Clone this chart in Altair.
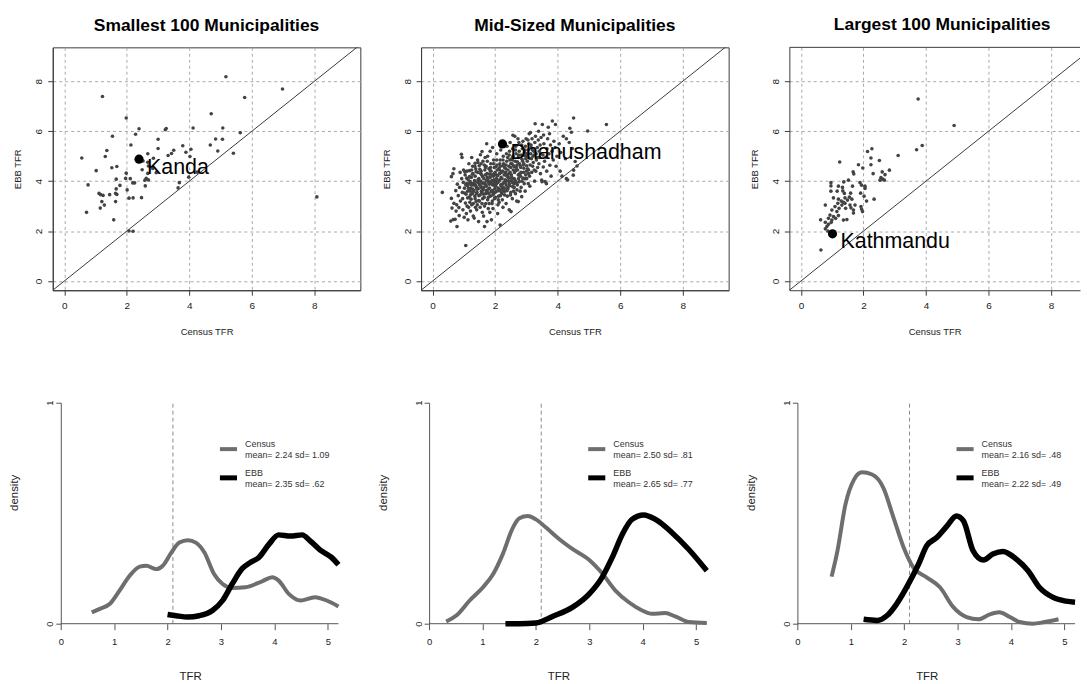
import altair as alt
import pandas as pd

FONT = "Liberation Sans"
GRID = "#a9a9a9"
BOX = "#3a3a3a"
PT = "#434343"
CEN = "#6e6e6e"
AX = "#555555"

# ---------------- data ----------------
small_pts = [
    (5.17, 8.18), (1.22, 7.39), (6.98, 7.69), (5.77, 7.35), (4.70, 6.70), (1.98, 6.53),
    (2.39, 6.10), (2.28, 5.88), (3.23, 6.06), (3.26, 6.11), (4.12, 6.13), (5.07, 6.13), (5.63, 5.94),
    (1.54, 5.80), (3.00, 5.68), (4.84, 5.69), (5.06, 5.68), (2.13, 5.45), (3.79, 5.42), (4.67, 5.45),
    (1.36, 5.23), (3.00, 5.31), (3.50, 5.24), (4.05, 5.28), (4.91, 5.21), (5.41, 5.12), (3.43, 5.11),
    (3.32, 5.03), (4.02, 4.99), (1.31, 4.99), (0.56, 4.93), (3.89, 5.16), (2.67, 4.76), (1.68, 4.59),
    (1.52, 4.54), (1.02, 4.42), (2.49, 4.46), (2.83, 4.51), (1.98, 4.32), (2.67, 4.31), (2.94, 4.34),
    (1.96, 4.11), (1.66, 4.08), (2.11, 4.10), (2.62, 4.11), (2.69, 4.05), (2.19, 3.93), (2.25, 3.93),
    (0.76, 3.85), (1.78, 3.83), (2.59, 3.81), (1.66, 3.69), (2.01, 3.65), (1.11, 3.51), (1.16, 3.46),
    (1.45, 3.46), (1.64, 3.51), (2.07, 3.32), (2.20, 3.33), (2.47, 3.34), (1.64, 3.18), (1.20, 3.18),
    (1.15, 2.92), (1.28, 3.04), (0.71, 2.75), (1.58, 2.45), (2.07, 2.00), (2.20, 1.99), (8.08, 3.37),
    (3.64, 3.73), (3.68, 3.94), (3.98, 4.16), (4.25, 4.36),
    (2.85, 4.92), (2.52, 4.81), (2.69, 4.61), (2.67, 5.10), (2.58, 4.04), (1.24, 3.43), (1.68, 3.47),
]

mid_pts = [
    (0.31, 3.55),
    (0.58, 2.40), (0.60, 3.31), (0.62, 2.92), (0.65, 4.30), (0.68, 4.50), (0.68, 3.11), (0.60, 4.18), (0.66, 2.46),
    (0.72, 2.47), (0.78, 2.18), (0.74, 3.62), (0.77, 3.05), (0.79, 3.88), (0.75, 2.80),
    (0.84, 2.94), (0.82, 3.42), (0.86, 3.75), (0.88, 4.35), (0.85, 2.62), (0.89, 3.20),
    (0.92, 5.08), (0.94, 4.95), (0.93, 4.10), (0.95, 3.55), (0.97, 2.85), (0.98, 3.95), (0.96, 3.30), (0.99, 4.45),
    (1.06, 1.42), (1.02, 3.72), (1.04, 4.25), (1.05, 3.12), (1.08, 2.70), (1.03, 4.38), (1.07, 3.48), (1.09, 3.90), (1.01, 2.55), (1.10, 4.40),
    (1.12, 3.60), (1.14, 4.05), (1.15, 2.95), (1.17, 3.35), (1.18, 4.42), (1.11, 3.82), (1.16, 4.70), (1.19, 3.15), (1.13, 2.45), (1.20, 3.98),
    (1.22, 3.70), (1.24, 4.15), (1.25, 3.05), (1.27, 3.50), (1.28, 4.60), (1.21, 2.80), (1.26, 3.90), (1.29, 4.30), (1.23, 3.28), (1.30, 2.60), (1.25, 4.95),
    (1.32, 3.62), (1.34, 4.02), (1.35, 3.40), (1.37, 2.95), (1.38, 4.50), (1.31, 3.85), (1.36, 4.20), (1.39, 3.18), (1.33, 2.52), (1.40, 3.75), (1.36, 4.72),
    (1.42, 3.55), (1.44, 3.95), (1.45, 4.35), (1.47, 3.22), (1.48, 4.10), (1.41, 2.85), (1.46, 3.70), (1.49, 4.62), (1.43, 3.05), (1.47, 2.38), (1.50, 3.85), (1.44, 4.85),
    (1.52, 3.45), (1.54, 4.00), (1.55, 3.78), (1.57, 4.25), (1.58, 3.10), (1.51, 4.48), (1.56, 3.60), (1.59, 2.75), (1.53, 5.06), (1.58, 5.19), (1.55, 4.70), (1.60, 3.92), (1.52, 2.95),
    (1.62, 3.65), (1.64, 4.10), (1.65, 3.35), (1.67, 4.45), (1.68, 3.88), (1.61, 4.80), (1.66, 3.00), (1.69, 4.25), (1.63, 2.60), (1.70, 3.50), (1.66, 2.18), (1.64, 3.75), (1.68, 4.95),
    (1.72, 3.80), (1.74, 4.30), (1.75, 3.55), (1.77, 4.05), (1.78, 2.90), (1.71, 4.60), (1.76, 3.25), (1.79, 3.95), (1.73, 5.50), (1.74, 2.38), (1.80, 4.50), (1.76, 5.00), (1.78, 3.68),
    (1.82, 3.72), (1.84, 4.15), (1.85, 3.40), (1.87, 4.40), (1.88, 3.90), (1.81, 3.10), (1.86, 4.70), (1.89, 3.60), (1.83, 2.75), (1.90, 4.25), (1.84, 5.20), (1.88, 2.45), (1.86, 3.98),
    (1.92, 3.85), (1.94, 4.20), (1.95, 3.50), (1.97, 4.55), (1.98, 3.95), (1.91, 3.20), (1.96, 4.05), (1.99, 3.70), (1.93, 2.90), (2.00, 4.35), (1.95, 4.85), (1.98, 3.30), (1.92, 5.35),
    (2.02, 3.80), (2.04, 4.10), (2.05, 3.60), (2.07, 4.45), (2.08, 3.95), (2.01, 3.35), (2.06, 4.65), (2.09, 3.05), (2.03, 4.25), (2.10, 3.72), (2.05, 5.10), (2.08, 2.70), (2.04, 3.90),
    (2.12, 4.00), (2.14, 4.30), (2.15, 3.65), (2.17, 4.60), (2.18, 3.85), (2.11, 3.40), (2.16, 4.85), (2.19, 4.15), (2.13, 3.15), (2.20, 3.55), (2.16, 2.24), (2.18, 5.25), (2.14, 4.45),
    (2.22, 4.10), (2.24, 4.40), (2.25, 3.75), (2.27, 4.70), (2.28, 3.95), (2.21, 3.50), (2.26, 5.00), (2.29, 4.25), (2.23, 3.25), (2.30, 4.55), (2.25, 2.95), (2.28, 3.60),
    (2.32, 4.05), (2.34, 4.50), (2.35, 3.85), (2.37, 4.80), (2.38, 4.20), (2.31, 3.60), (2.36, 5.10), (2.39, 3.40), (2.33, 4.35), (2.40, 4.95), (2.35, 3.10), (2.38, 5.40),
    (2.42, 4.15), (2.44, 4.60), (2.45, 3.90), (2.47, 4.85), (2.48, 4.35), (2.41, 3.70), (2.46, 5.20), (2.49, 3.45), (2.43, 4.00), (2.50, 4.70), (2.45, 2.85), (2.48, 5.55),
    (2.52, 4.25), (2.54, 4.70), (2.55, 3.95), (2.57, 5.00), (2.58, 4.45), (2.51, 2.78), (2.56, 5.30), (2.59, 3.60), (2.53, 4.90), (2.57, 5.84), (2.60, 4.10), (2.55, 3.30),
    (2.62, 4.35), (2.64, 4.80), (2.65, 4.00), (2.67, 5.10), (2.68, 4.55), (2.61, 3.75), (2.66, 5.40), (2.69, 3.20), (2.63, 5.80), (2.70, 4.65), (2.65, 3.50),
    (2.72, 4.45), (2.74, 4.95), (2.75, 4.10), (2.77, 5.20), (2.78, 4.70), (2.71, 3.85), (2.76, 5.55), (2.74, 3.18), (2.79, 4.30), (2.73, 5.70), (2.80, 3.60),
    (2.82, 4.55), (2.84, 5.05), (2.85, 3.38), (2.87, 5.30), (2.88, 4.80), (2.81, 4.20), (2.86, 4.00), (2.89, 5.60), (2.83, 3.75), (2.90, 4.65),
    (2.92, 4.70), (2.94, 5.15), (2.96, 3.60), (2.97, 5.40), (2.98, 4.90), (2.91, 4.35), (2.95, 4.10), (2.99, 5.70), (2.93, 3.90), (3.00, 5.00),
    (3.01, 4.10), (3.03, 4.80), (3.05, 5.25), (3.06, 3.90), (3.08, 5.50), (3.04, 4.50), (3.09, 5.90), (3.02, 5.05), (3.07, 4.30),
    (3.12, 4.65), (3.14, 5.10), (3.15, 5.45), (3.17, 4.35), (3.18, 5.70), (3.11, 3.80), (3.16, 4.90), (3.19, 5.25), (3.13, 5.95),
    (3.22, 4.75), (3.24, 5.20), (3.25, 4.45), (3.27, 5.55), (3.28, 6.30), (3.21, 5.00), (3.26, 4.00), (3.29, 5.80),
    (3.32, 4.85), (3.35, 5.35), (3.36, 4.55), (3.38, 5.65), (3.31, 5.10), (3.39, 6.00),
    (3.42, 4.95), (3.44, 5.45), (3.45, 4.30), (3.47, 5.75), (3.49, 4.04), (3.41, 5.20), (3.50, 3.98),
    (3.51, 6.27), (3.53, 5.05), (3.54, 4.57), (3.56, 5.50), (3.58, 4.80), (3.60, 3.98), (3.55, 5.85),
    (3.62, 4.95), (3.64, 3.90), (3.66, 5.30), (3.68, 5.70), (3.70, 6.16), (3.65, 4.40),
    (3.72, 5.10), (3.75, 4.64), (3.77, 5.45), (3.79, 4.20), (3.74, 5.90),
    (3.83, 6.41), (3.82, 5.20), (3.86, 4.85), (3.88, 5.60),
    (3.93, 6.27), (3.92, 5.35), (3.95, 4.60), (3.98, 5.00),
    (4.08, 4.40), (4.05, 5.50), (4.14, 4.20), (4.10, 5.15), (4.18, 5.80),
    (4.28, 4.10), (4.28, 5.70), (4.32, 4.05), (4.37, 5.55), (4.39, 6.12), (4.25, 4.90),
    (4.44, 5.96), (4.47, 5.31), (4.50, 4.24), (4.51, 6.53), (4.51, 4.44), (4.56, 4.79),
    (4.62, 4.61), (4.96, 6.01), (5.56, 6.27),
    # dense core of the cloud
    (1.03, 3.52), (1.06, 3.86), (1.09, 4.12), (1.12, 3.33), (1.15, 3.72), (1.18, 4.18), (1.21, 3.45), (1.24, 3.84),
    (1.27, 4.28), (1.30, 3.58), (1.33, 3.92), (1.36, 3.30), (1.39, 4.38), (1.42, 3.68), (1.45, 4.05), (1.48, 3.42),
    (1.51, 3.85), (1.54, 4.30), (1.57, 3.55), (1.60, 4.18), (1.63, 3.48), (1.66, 3.92), (1.69, 4.55), (1.72, 3.62),
    (1.75, 4.15), (1.78, 3.35), (1.81, 3.88), (1.84, 4.42), (1.87, 3.58), (1.90, 4.02), (1.93, 3.45), (1.96, 4.28),
    (1.99, 3.82), (2.02, 4.58), (2.05, 3.92), (2.08, 4.22), (2.11, 3.62), (2.14, 4.05), (2.17, 3.42), (2.20, 4.35),
    (2.23, 3.88), (2.26, 4.62), (2.29, 3.72), (2.32, 4.28), (2.35, 4.02), (2.38, 3.62), (2.41, 4.45), (2.44, 4.12),
    (2.47, 3.82), (2.50, 4.55), (2.53, 4.15), (2.56, 3.78), (2.59, 4.62), (2.62, 4.08), (2.65, 4.42), (2.68, 3.92),
    (2.71, 4.78), (2.74, 4.25), (2.77, 3.98), (2.80, 4.62), (2.83, 4.35), (2.86, 4.88), (2.89, 4.12), (2.92, 4.52),
    (2.95, 5.02), (2.98, 4.25), (3.01, 4.62), (3.04, 5.12), (3.07, 4.45), (3.10, 4.92),
    (1.10, 3.00), (1.20, 3.60), (1.30, 3.10), (1.40, 3.50), (1.50, 3.20), (1.60, 3.30), (1.70, 3.10), (1.80, 3.50),
    (1.90, 3.10), (2.00, 3.55), (2.10, 3.25), (2.20, 3.80), (2.30, 3.45), (2.40, 3.75), (2.50, 3.55), (2.60, 3.90),
    (2.70, 3.65), (1.25, 4.45), (1.35, 4.60), (1.45, 4.75), (1.55, 4.40), (1.65, 4.65), (1.75, 4.80), (1.85, 4.55),
    (1.95, 4.70), (2.05, 4.85), (2.15, 4.70), (2.25, 4.85), (2.35, 4.65), (2.45, 5.05), (2.55, 4.85), (2.65, 5.25),
    (2.75, 5.05), (2.85, 5.45), (2.95, 5.25), (3.05, 5.65), (3.15, 5.35), (3.25, 5.05), (3.35, 4.95), (3.45, 5.10),
    (3.20, 4.60), (3.30, 4.40), (3.40, 4.70), (3.10, 4.20), (3.00, 4.40), (1.72, 4.02), (1.82, 4.28), (1.92, 3.62),
    (2.02, 4.02), (2.12, 4.52), (2.22, 3.68), (2.32, 3.95), (2.42, 4.28), (2.52, 4.02), (2.62, 4.58), (1.58, 3.72),
    (1.48, 3.98), (1.38, 3.82), (1.28, 3.68), (1.18, 3.90),
]

large_pts = [
    (3.75, 7.29), (4.90, 6.23), (3.88, 5.43), (3.70, 5.26), (3.11, 5.03), (2.13, 5.19), (2.27, 5.30),
    (1.24, 4.77), (2.24, 4.93), (2.51, 4.83), (2.24, 4.66), (1.84, 4.66), (1.98, 4.53), (1.67, 4.37),
    (1.69, 4.29), (2.31, 4.30), (2.83, 4.44), (2.60, 4.37), (2.69, 4.26), (2.56, 4.14), (2.62, 4.08),
    (2.53, 4.04), (2.67, 4.04), (1.52, 4.04), (1.37, 3.97), (1.89, 3.94), (1.94, 3.84), (0.96, 3.94),
    (0.96, 3.81), (1.20, 3.80), (1.33, 3.75), (1.65, 3.80), (2.05, 3.80), (2.05, 3.71), (0.96, 3.60),
    (1.16, 3.60), (1.34, 3.61), (1.39, 3.51), (1.59, 3.52), (1.91, 3.52), (2.02, 3.40), (2.10, 3.20),
    (2.34, 3.28), (1.04, 3.33), (1.20, 3.28), (1.41, 3.33), (1.49, 3.24), (1.55, 3.36), (1.63, 3.28),
    (1.29, 3.20), (1.36, 3.15), (1.18, 3.11), (1.31, 3.04), (1.41, 3.11), (1.57, 3.04), (1.73, 3.04),
    (1.09, 2.98), (1.22, 2.91), (1.43, 2.91), (1.60, 2.93), (1.68, 2.84), (1.92, 2.98), (1.94, 2.88),
    (1.97, 2.78), (1.68, 2.72), (0.78, 3.04), (0.99, 2.84), (1.15, 2.78), (0.93, 2.64), (1.04, 2.58),
    (1.20, 2.62), (0.88, 2.51), (0.99, 2.44), (1.11, 2.51), (1.36, 2.44), (1.47, 2.46), (0.63, 2.45),
    (0.78, 2.35), (0.88, 2.27), (0.97, 2.35), (0.83, 2.18), (0.78, 2.09), (0.86, 2.00), (0.64, 1.24),
]

panel_titles = ["Smallest 100 Municipalities", "Mid-Sized Municipalities", "Largest 100 Municipalities"]
highlight_names = ["Kanda", "Dhanushadham", "Kathmandu"]
highlight_x = [2.39, 2.235, 1.01]
highlight_y = [4.88, 5.49, 1.89]

census_x = [
    [0.58, 0.73, 0.92, 1.10, 1.29, 1.48, 1.60, 1.79, 1.91, 2.07, 2.22, 2.38, 2.53, 2.69, 2.87, 3.03, 3.21, 3.46, 3.77, 3.96, 4.08, 4.27, 4.49, 4.76, 4.98, 5.20],
    [0.32, 0.51, 0.76, 1.01, 1.20, 1.38, 1.57, 1.69, 1.85, 2.00, 2.19, 2.44, 2.69, 3.00, 3.24, 3.49, 3.74, 3.99, 4.17, 4.42, 4.61, 4.86, 5.20],
    [0.64, 0.75, 0.90, 1.06, 1.21, 1.40, 1.61, 1.80, 1.99, 2.17, 2.42, 2.67, 2.92, 3.17, 3.39, 3.60, 3.78, 3.98, 4.16, 4.41, 4.63, 4.89],
]
census_y = [
    [0.051, 0.067, 0.09, 0.15, 0.217, 0.258, 0.262, 0.247, 0.262, 0.322, 0.367, 0.378, 0.367, 0.322, 0.225, 0.18, 0.162, 0.165, 0.192, 0.21, 0.195, 0.135, 0.105, 0.12, 0.105, 0.078],
    [0.01, 0.037, 0.105, 0.165, 0.225, 0.315, 0.435, 0.477, 0.487, 0.472, 0.435, 0.382, 0.337, 0.288, 0.228, 0.15, 0.097, 0.06, 0.045, 0.048, 0.033, 0.0075, 0.003],
    [0.213, 0.33, 0.54, 0.652, 0.685, 0.675, 0.615, 0.48, 0.345, 0.255, 0.21, 0.165, 0.075, 0.03, 0.02, 0.042, 0.052, 0.03, 0.0075, 0.0, 0.0075, 0.02],
]
ebb_x = [
    [2.00, 2.16, 2.38, 2.59, 2.84, 3.03, 3.21, 3.40, 3.55, 3.71, 3.90, 4.08, 4.30, 4.52, 4.67, 4.86, 5.07, 5.20],
    [1.43, 1.69, 2.00, 2.31, 2.69, 3.00, 3.24, 3.43, 3.62, 3.80, 4.02, 4.24, 4.55, 4.86, 5.20],
    [1.24, 1.49, 1.68, 1.86, 2.08, 2.27, 2.42, 2.61, 2.80, 2.98, 3.11, 3.29, 3.48, 3.66, 3.85, 4.10, 4.32, 4.53, 4.78, 5.03, 5.20],
]
ebb_y = [
    [0.042, 0.036, 0.030, 0.036, 0.06, 0.105, 0.18, 0.25, 0.277, 0.30, 0.36, 0.402, 0.397, 0.402, 0.375, 0.333, 0.30, 0.267],
    [0.0, 0.0, 0.003, 0.033, 0.075, 0.135, 0.21, 0.30, 0.405, 0.472, 0.492, 0.472, 0.412, 0.337, 0.24],
    [0.02, 0.015, 0.037, 0.09, 0.18, 0.27, 0.352, 0.39, 0.442, 0.487, 0.465, 0.33, 0.288, 0.315, 0.327, 0.292, 0.24, 0.165, 0.12, 0.102, 0.097],
]
census_stats = ["mean= 2.24 sd= 1.09", "mean= 2.50 sd= .81", "mean= 2.16 sd= .48"]
ebb_stats = ["mean= 2.35 sd= .62", "mean= 2.65 sd= .77", "mean= 2.22 sd= .49"]
replacement_tfr = 2.1
scatter_ticks = [0, 2, 4, 6, 8]
density_xticks = [0, 1, 2, 3, 4, 5]
density_yticks = [0, 1]

pts_list = [small_pts, mid_pts, large_pts]

# ---------------- layout constants ----------------
TOP_H = 244
BOT_H = 222
BOT_W = 287
BOT_XMIN = -0.1505
BOT_OFF = -8.07


def scatter_panel(i, width, xmax, title_dx, boxed):
    xs = alt.Scale(domain=[-0.37, xmax], nice=False, zero=False)
    ys = alt.Scale(domain=[-0.37, 9.36], nice=False, zero=False)
    xax = alt.Axis(values=scatter_ticks, grid=True, gridDash=[3, 3], gridColor=GRID, gridWidth=1,
                   domainColor=BOX, tickColor=BOX, tickSize=5, labelPadding=5,
                   labelFont=FONT, labelFontSize=10, labelColor="#222",
                   title="Census TFR", titleFont=FONT, titleFontSize=9.5, titleFontWeight="normal",
                   titleColor="#222", titleX=width / 2, titleY=41, titleBaseline="middle", titleAlign="center")
    yax = alt.Axis(values=scatter_ticks, grid=True, gridDash=[3, 3], gridColor=GRID, gridWidth=1,
                   domainColor=BOX, tickColor=BOX, tickSize=5, labelPadding=4,
                   labelFont=FONT, labelFontSize=10, labelColor="#222",
                   labelAngle=270, labelAlign="center", labelBaseline="bottom",
                   title="EBB TFR", titleFont=FONT, titleFontSize=9.5, titleFontWeight="normal",
                   titleColor="#222", titleX=-35, titleY=TOP_H / 2, titleAngle=270,
                   titleBaseline="middle", titleAlign="center")
    X = lambda f: alt.X(f, type="quantitative", scale=xs, axis=xax)
    Y = lambda f: alt.Y(f, type="quantitative", scale=ys, axis=yax)

    df = pd.DataFrame(pts_list[i], columns=["x", "y"])
    diag = alt.Chart(pd.DataFrame({"x": [-1, 10], "y": [-1, 10]})).mark_line(
        color=BOX, strokeWidth=1, clip=True).encode(x=X("x"), y=Y("y"))
    dots = alt.Chart(df).mark_circle(size=13, color=PT, opacity=1).encode(x=X("x"), y=Y("y"))
    hdf = pd.DataFrame({"x": [highlight_x[i]], "y": [highlight_y[i]], "label": [highlight_names[i]]})
    big = alt.Chart(hdf).mark_circle(size=85, color="black", opacity=1).encode(x=X("x"), y=Y("y"))
    lab = alt.Chart(hdf).mark_text(align="left", baseline="alphabetic", dx=8, dy=14.7,
                                   fontSize=21.5, font=FONT, color="black").encode(
        x=X("x"), y=Y("y"), text="label:N")
    layers = [diag, dots, big, lab]
    if not boxed:
        top = alt.Chart(pd.DataFrame({"y": [9.36]})).mark_rule(color=BOX, strokeWidth=1).encode(y=Y("y"))
        layers.append(top)
    ch = alt.layer(*layers).properties(
        width=width, height=TOP_H,
        title=alt.TitleParams(panel_titles[i], font=FONT, fontSize=17.5, fontWeight="bold",
                              color="black", anchor="middle", frame="group", baseline="top",
                              offset=13, dx=title_dx),
    )
    if boxed:
        ch = ch.properties(view=alt.ViewBackground(stroke=BOX, strokeWidth=1))
    else:
        ch = ch.properties(view=alt.ViewBackground(stroke="transparent"))
    return ch


def density_panel(i):
    xs = alt.Scale(domain=[BOT_XMIN, 5.2], nice=False, zero=False)
    ys = alt.Scale(domain=[0, 1], nice=False, zero=False)
    xax = alt.Axis(values=density_xticks, domain=False, grid=False, tickColor=AX, tickSize=6,
                   labelPadding=7, labelFont=FONT, labelFontSize=9.5, labelColor="#222", format="d",
                   title="TFR", titleFont=FONT, titleFontSize=11.5, titleFontWeight="normal",
                   titleColor="#222", titleX=138, titleY=53, titleBaseline="middle", titleAlign="center")
    yax = alt.Axis(values=density_yticks, domain=True, domainColor=AX, grid=False, offset=BOT_OFF,
                   tickColor=AX, tickSize=5, labelPadding=1, labelFont=FONT, labelFontSize=9.5,
                   labelColor="#222", labelAngle=270, labelAlign="center", labelBaseline="bottom",
                   format="d",
                   title="density", titleFont=FONT, titleFontSize=11.5, titleFontWeight="normal",
                   titleColor="#222", titleX=-46, titleY=90, titleAngle=270,
                   titleBaseline="middle", titleAlign="center")
    X = lambda f: alt.X(f, type="quantitative", scale=xs, axis=xax)
    Y = lambda f: alt.Y(f, type="quantitative", scale=ys, axis=yax)

    axis_line = alt.Chart(pd.DataFrame({"x": [0], "x2": [5.2], "y": [0]})).mark_rule(
        color=AX, strokeWidth=1).encode(x=X("x"), x2="x2:Q", y=Y("y"))
    vline = alt.Chart(pd.DataFrame({"x": [replacement_tfr], "y": [0], "y2": [1]})).mark_rule(
        color="#8a8a8a", strokeWidth=1, strokeDash=[4, 3]).encode(x=X("x"), y=Y("y"), y2="y2:Q")
    cdf = pd.DataFrame({"x": census_x[i], "y": census_y[i]})
    edf = pd.DataFrame({"x": ebb_x[i], "y": ebb_y[i]})
    cline = alt.Chart(cdf).mark_line(color=CEN, strokeWidth=4, interpolate="monotone").encode(
        x=X("x"), y=Y("y"))
    eline = alt.Chart(edf).mark_line(color="black", strokeWidth=5.5, interpolate="monotone").encode(
        x=X("x"), y=Y("y"))
    leg_lines = pd.DataFrame({"x": [2.98, 2.98], "x2": [3.30, 3.30], "y": [0.79, 0.66],
                              "s": ["Census", "EBB"]})
    lcen = alt.Chart(leg_lines.iloc[[0]]).mark_rule(color=CEN, strokeWidth=4).encode(
        x=X("x"), x2="x2:Q", y=Y("y"))
    lebb = alt.Chart(leg_lines.iloc[[1]]).mark_rule(color="black", strokeWidth=5).encode(
        x=X("x"), x2="x2:Q", y=Y("y"))
    leg_text = pd.DataFrame({"x": [3.45] * 4, "y": [0.812, 0.762, 0.682, 0.632],
                             "t": ["Census", census_stats[i], "EBB", ebb_stats[i]]})
    ltxt = alt.Chart(leg_text).mark_text(align="left", baseline="middle", font=FONT, fontSize=9,
                                         color="#333").encode(x=X("x"), y=Y("y"), text="t:N")
    ch = alt.layer(vline, axis_line, cline, eline, lcen, lebb, ltxt).properties(
        width=BOT_W, height=BOT_H, view=alt.ViewBackground(stroke="transparent"))
    return ch


t1 = scatter_panel(0, 309, -0.37 + 309 / 31.4, 0, True)
t2 = scatter_panel(1, 309, -0.37 + 309 / 31.4, 0, True)
t3 = scatter_panel(2, 292, -0.37 + 292 / 31.4, 7.5, False)
b1 = density_panel(0)
b2 = density_panel(1)
b3 = density_panel(2)

chart = alt.concat(
    t1, t2, t3, b1, b2, b3, columns=3,
    spacing={"row": 113, "column": 61}, bounds="flush",
    padding={"left": 8, "top": 14, "right": 0, "bottom": 0},
    background="white",
).configure_view(stroke="transparent")

chart.save("out.html", embed_options={"renderer": "svg", "actions": False})
